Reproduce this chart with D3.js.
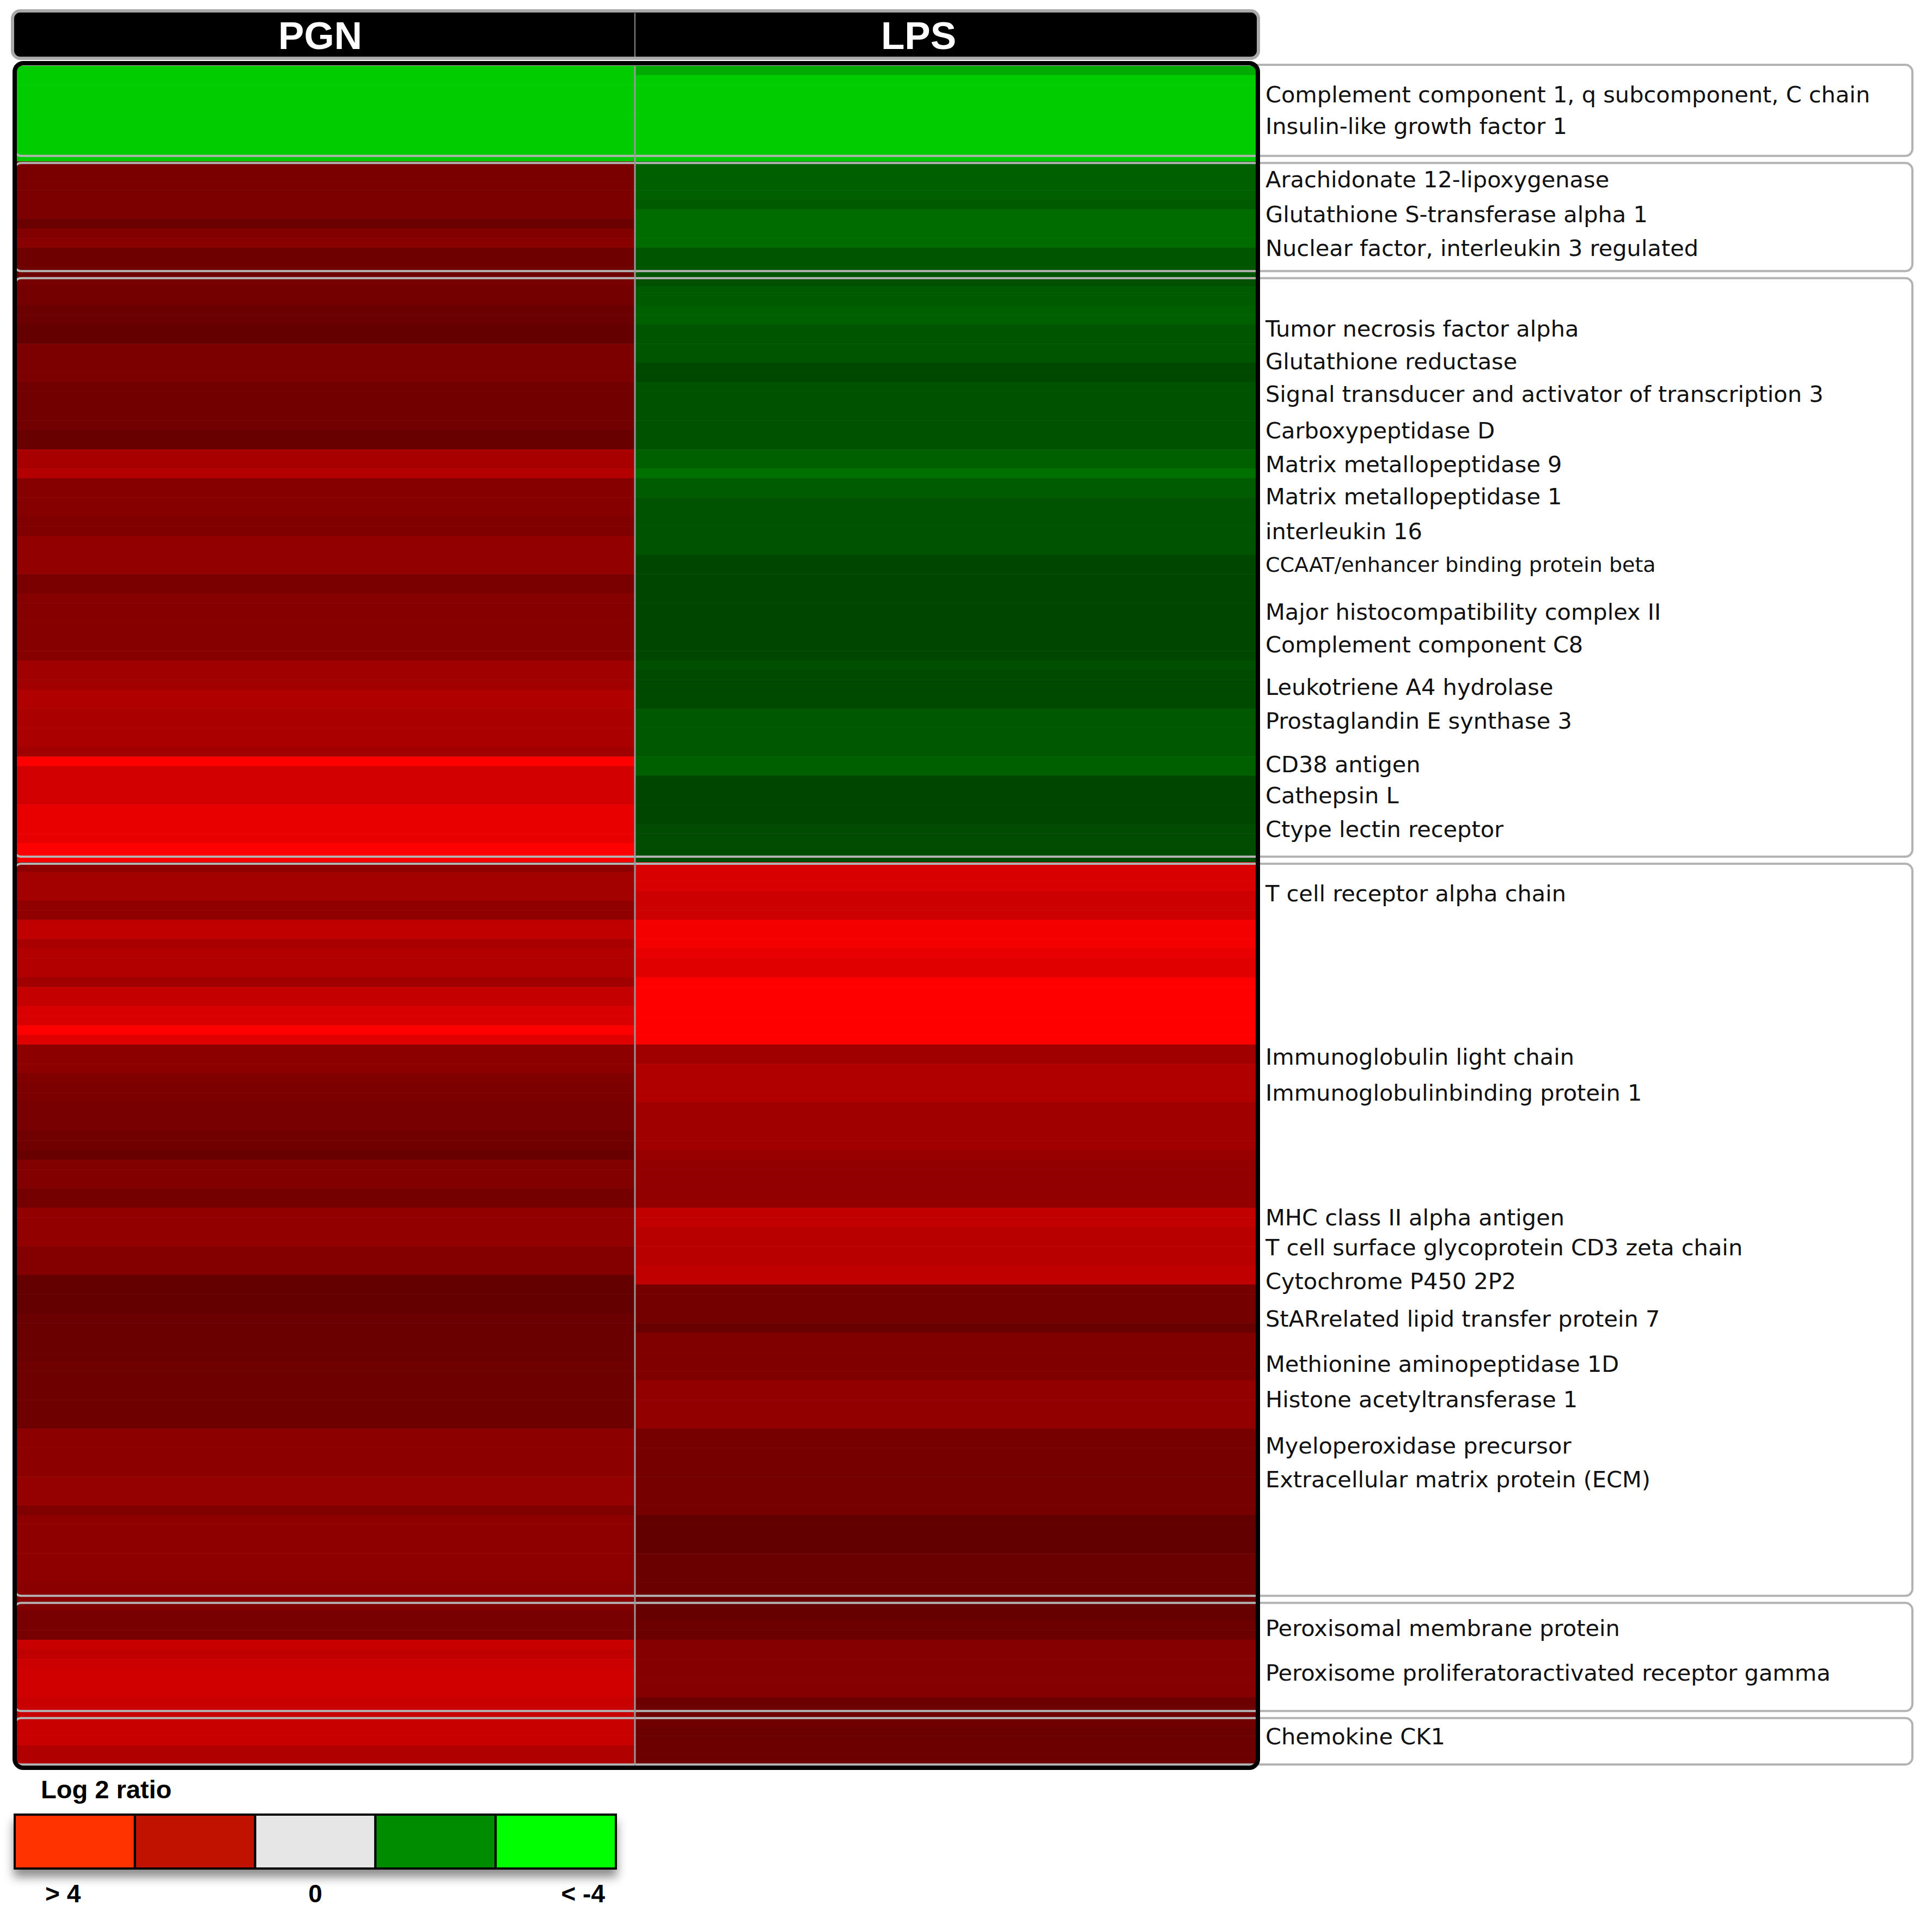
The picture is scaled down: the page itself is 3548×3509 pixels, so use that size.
<!DOCTYPE html>
<html lang="en">
<head>
    <meta charset="UTF-8">
    <script src="https://d3js.org/d3.v7.min.js"></script>
    <title>PGN / LPS heatmap</title>
    <style>
        body { margin: 0; background: #fff; }
    </style>
</head>
<body>
    <svg width="3548" height="3509" id="heat"></svg>
    <script>

        // columns and row groups
        const columns = ["PGN", "LPS"];
        const groupSizes = [10, 12, 61, 77, 12, 5];

        // log2 ratios, one value per row, top to bottom
        const pgnValues = [
            -3.2,-3.2,-3.2,-3.2,-3.2,-3.2,-3.2,-3.2,-3.2,-3.2,
            1.91,1.91,1.95,1.95,1.95,1.95,1.66,2.04,2.13,1.73,1.73,1.73,
            1.88,1.82,1.82,1.66,1.66,1.58,1.58,1.95,1.95,1.95,1.95,
            1.80,1.80,1.80,1.80,1.80,1.65,1.65,2.64,2.64,2.82,
            2.12,2.12,2.12,2.12,2.01,2.01,2.29,2.29,2.29,2.29,1.91,1.91,
            2.10,2.10,2.10,2.10,2.10,2.10,2.10,2.51,2.51,2.51,2.76,2.76,
            2.67,2.67,2.67,2.67,2.51,4.0,3.29,3.29,3.29,3.29,
            3.64,3.64,3.64,3.64,4.0,4.0,
            2.20,2.56,2.56,2.56,2.26,2.26,3.01,3.01,2.64,2.79,2.79,2.79,2.51,
            3.09,3.09,3.39,3.39,4.0,3.51,2.20,2.20,2.20,2.01,1.95,1.95,
            1.88,1.88,1.88,1.76,1.76,1.63,2.04,2.04,2.04,1.82,1.82,
            2.31,2.31,2.31,2.31,2.07,2.07,2.07,1.57,1.57,1.57,1.57,
            1.66,1.66,1.66,1.66,1.66,1.73,1.73,1.73,1.73,1.73,1.73,1.73,
            2.20,2.20,2.20,2.20,2.20,2.34,2.34,2.34,2.01,
            2.23,2.23,2.23,2.23,2.23,2.23,2.23,2.17,2.17,
            2.01,1.88,1.88,1.88,3.13,3.01,3.2,3.26,3.26,3.26,3.13,3.13,
            3.13,3.13,3.13,2.76,2.76
        ];

        const lpsValues = [
            -2.67,-3.2,-3.2,-3.2,-3.2,-3.2,-3.2,-3.2,-3.2,-3.2,
            -1.51,-1.51,-1.51,-1.51,-1.41,-1.69,-1.69,-1.69,-1.69,-1.33,-1.33,-1.33,
            -1.25,-1.41,-1.41,-1.51,-1.51,-1.33,-1.33,-1.33,-1.33,-1.13,-1.13,
            -1.29,-1.29,-1.29,-1.29,-1.29,-1.29,-1.29,-1.51,-1.51,-1.76,
            -1.44,-1.44,-1.30,-1.30,-1.30,-1.30,-1.30,-1.30,
            -1.08,-1.08,-1.08,-1.08,-1.08,-1.08,-1.08,-1.08,-1.08,-1.08,-1.08,
            -1.24,-1.16,-1.16,-1.16,-1.16,-1.38,-1.38,-1.38,-1.38,-1.38,
            -1.51,-1.51,-1.08,-1.08,-1.08,-1.08,-1.08,-1.19,-1.19,-1.19,-1.19,
            3.39,3.39,3.39,3.20,3.20,3.20,3.83,3.83,3.83,3.64,3.51,3.51,
            4.0,4.0,4.0,4.0,4.0,4.0,4.0,2.51,2.51,2.76,2.76,2.76,2.76,
            2.51,2.51,2.51,2.51,2.51,2.38,2.29,2.29,2.29,2.29,2.29,
            3.04,3.04,2.89,2.89,2.89,2.89,3.01,3.01,1.84,1.84,1.84,1.84,1.63,
            2.01,2.01,2.01,2.01,2.01,2.29,2.29,2.29,2.29,2.29,
            1.85,1.85,1.85,1.85,1.85,1.85,1.85,1.85,1.85,
            1.54,1.54,1.54,1.54,1.66,1.66,1.66,1.66,1.66,
            1.60,1.60,1.69,1.69,2.09,2.09,2.09,2.09,2.09,2.09,1.69,1.72,
            1.76,1.70,1.70,1.70,1.70
        ];

        // gene names and the row (in row units) each one sits at
        const geneLabels = [
            "Complement component 1, q subcomponent, C chain",
            "Insulin-like growth factor 1",
            "Arachidonate 12-lipoxygenase",
            "Glutathione S-transferase alpha 1",
            "Nuclear factor, interleukin 3 regulated",
            "Tumor necrosis factor alpha",
            "Glutathione reductase",
            "Signal transducer and activator of transcription 3",
            "Carboxypeptidase D",
            "Matrix metallopeptidase 9",
            "Matrix metallopeptidase 1",
            "interleukin 16",
            "CCAAT/enhancer binding protein beta",
            "Major histocompatibility complex II",
            "Complement component C8",
            "Leukotriene A4 hydrolase",
            "Prostaglandin E synthase 3",
            "CD38 antigen",
            "Cathepsin L",
            "Ctype lectin receptor",
            "T cell receptor alpha chain",
            "Immunoglobulin light chain",
            "Immunoglobulinbinding protein 1",
            "MHC class II alpha antigen",
            "T cell surface glycoprotein CD3 zeta chain",
            "Cytochrome P450 2P2",
            "StARrelated lipid transfer protein 7",
            "Methionine aminopeptidase 1D",
            "Histone acetyltransferase 1",
            "Myeloperoxidase precursor",
            "Extracellular matrix protein (ECM)",
            "Peroxisomal membrane protein",
            "Peroxisome proliferatoractivated receptor gamma",
            "Chemokine CK1"
        ];
        const geneRows = [
            3.05, 6.35, 11.9, 15.5, 19.05, 27.45, 30.85, 34.25, 38.05, 41.55,
            44.9, 48.55, 52.05, 56.95, 60.35, 64.75, 68.25, 72.8, 76.05, 79.55,
            86.25, 103.3, 107.05, 120.0, 123.15, 126.65, 130.55, 135.3, 138.95,
            143.8, 147.3, 162.8, 167.45, 174.1
        ];
        const smallLabels = ["CCAAT/enhancer binding protein beta"];

        // legend
        const legendTitle = "Log 2 ratio";
        const legendColors = ["#ff3300", "#c11200", "#e6e6e6", "#008c00", "#00ff00"];
        const legendTicks = ["> 4", "0", "< -4"];

        let svg = d3.select("#heat");
        const nRows = pgnValues.length;

        let x = d3.scaleBand().domain(columns).range([26, 2306]);
        let y = d3.scaleBand().domain(d3.range(nRows)).range([120, 3240]);
        let yLab = d3.scaleLinear().domain([0, nRows]).range([120, 3240]);
        let color = d3.scaleLinear().domain([-4, 0, 4])
            .range(["#00ff00", "#000000", "#ff0000"]).clamp(true);

        // drop shadow for the legend strip
        let defs = svg.append("defs");
        defs.append("filter").attr("id", "shadow")
            .attr("x", "-10%").attr("y", "-30%").attr("width", "120%").attr("height", "190%")
            .append("feDropShadow")
            .attr("dx", 0).attr("dy", 14).attr("stdDeviation", 9)
            .attr("flood-color", "#000").attr("flood-opacity", 0.45);

        // header bar
        svg.append("rect")
            .attr("x", 23).attr("y", 20)
            .attr("width", 2288).attr("height", 87)
            .attr("rx", 14)
            .attr("style", "fill: black; stroke: #a9a9a9; stroke-width: 6");
        svg.append("line")
            .attr("x1", x("LPS")).attr("x2", x("LPS"))
            .attr("y1", 24).attr("y2", 104)
            .attr("style", "stroke: #8a8a8a; stroke-width: 2");
        const headX = { PGN: 588, LPS: 1687 };
        columns.forEach(c => {
            svg.append("text")
                .attr("x", headX[c])
                .attr("y", 90)
                .attr("text-anchor", "middle")
                .text(c)
                .attr("style", "font-family: 'Liberation Sans', Arial, sans-serif; font-weight: bold; font-size: 71px; fill: white;");
        });

        // heatmap cells
        let rows = d3.range(nRows).map(i => ({ i: i, PGN: pgnValues[i], LPS: lpsValues[i] }));
        columns.forEach(c => {
            svg.append("g").selectAll("rect")
                .data(rows)
                .join("rect")
                .attr("x", x(c))
                .attr("y", d => y(d.i))
                .attr("width", x.bandwidth())
                .attr("height", y.bandwidth() + 0.6)
                .attr("fill", d => color(d[c]));
        });

        // group boxes (across heatmap and label area)
        let starts = [0];
        groupSizes.forEach((s, k) => starts.push(starts[k] + s));
        for (let k = 0; k < groupSizes.length; k++) {
            let top = k == 0 ? y(0) - 1 : y(starts[k]) + 3;
            let bot = k == groupSizes.length - 1
                ? y(nRows - 1) + y.bandwidth()
                : y(starts[k + 1]) - 10;
            svg.append("rect")
                .attr("x", 26).attr("y", top)
                .attr("width", 3486).attr("height", bot - top)
                .attr("rx", 13)
                .attr("style", "fill: none; stroke: #b3b3b3; stroke-width: 4");
        }

        // column divider
        svg.append("line")
            .attr("x1", x("LPS")).attr("x2", x("LPS"))
            .attr("y1", 116).attr("y2", 3244)
            .attr("style", "stroke: #999; stroke-width: 3");

        // thick black frame round the heatmap
        svg.append("rect")
            .attr("x", 27).attr("y", 116)
            .attr("width", 2283).attr("height", 3130)
            .attr("rx", 16)
            .attr("style", "fill: none; stroke: black; stroke-width: 8");

        // gene labels
        geneLabels.forEach((g, k) => {
            svg.append("text")
                .attr("x", 2324)
                .attr("y", yLab(geneRows[k]))
                .attr("dominant-baseline", "central")
                .text(g)
                .attr("style", "font-family: 'DejaVu Sans', sans-serif; fill: #111; font-size: "
                    + (smallLabels.includes(g) ? 38 : 41.5) + "px;");
        });

        // legend
        svg.append("text")
            .attr("x", 75).attr("y", 3302)
            .text(legendTitle)
            .attr("style", "font-family: 'Liberation Sans', Arial, sans-serif; font-weight: bold; font-size: 47px;");

        let lx = d3.scaleBand().domain(d3.range(legendColors.length)).range([27, 1131]);
        let lg = svg.append("g");
        lg.append("rect")
            .attr("x", 27).attr("y", 3332)
            .attr("width", 1104).attr("height", 99)
            .attr("filter", "url(#shadow)")
            .attr("style", "fill: black; stroke: black; stroke-width: 4");
        lg.selectAll(".cell")
            .data(legendColors)
            .join("rect")
            .attr("class", "cell")
            .attr("x", (d, i) => lx(i))
            .attr("y", 3332)
            .attr("width", lx.bandwidth())
            .attr("height", 99)
            .attr("fill", d => d)
            .attr("style", "stroke: black; stroke-width: 4");

        const tickStyle = "font-family: 'Liberation Sans', Arial, sans-serif; font-weight: bold; font-size: 46px;";
        svg.append("text")
            .attr("x", lx(0) + 56).attr("y", 3493)
            .text(legendTicks[0]).attr("style", tickStyle);
        svg.append("text")
            .attr("x", lx(2) + lx.bandwidth() / 2).attr("y", 3493)
            .attr("text-anchor", "middle")
            .text(legendTicks[1]).attr("style", tickStyle);
        svg.append("text")
            .attr("x", lx(4) + lx.bandwidth() - 20).attr("y", 3493)
            .attr("text-anchor", "end")
            .text(legendTicks[2]).attr("style", tickStyle);

    </script>
</body>
</html>
